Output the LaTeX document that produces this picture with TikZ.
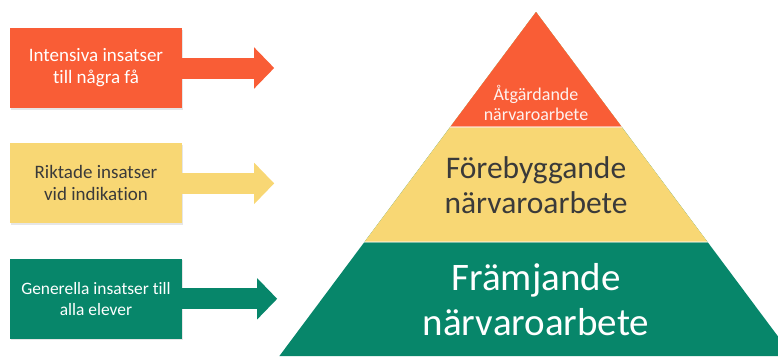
\documentclass[tikz,border=0pt]{standalone}
\usepackage{fontspec}
\setmainfont{Carlito}[Ligatures={NoCommon}]
\usetikzlibrary{arrows.meta,positioning,shadows}

\begin{document}
\begin{tikzpicture}[
            x=1pt, y=-1pt,
            node distance=35pt,
            pil/.style={line width=21pt, -{Triangle[length=20pt,width=40pt]}}
        ]
            \definecolor{rdx}{HTML}{F95D36}
            \definecolor{ylx}{HTML}{F8D774}
            \definecolor{gnx}{HTML}{07866A}
            \definecolor{txt}{HTML}{3A3A3A}

            \useasboundingbox (0,0) rectangle (778,356);

            \begin{scope}[
                every node/.style={minimum width=172pt,minimum height=80pt,align=center,
                    font=\fontsize{19}{22}\selectfont,
                    drop shadow={shadow xshift=1pt,shadow yshift=-1.5pt,opacity=.2}}
            ]
                \node (i1) [fill=rdx,text=white] at (96,68)    {Intensiva insatser\\till några få};
                \node (i2) [below=of i1,fill=ylx,text=txt]      {Riktade insatser\\vid indikation};
                \node (i3) [below=of i2,fill=gnx,text=white,
                            font=\fontsize{17.4}{21}\selectfont] {Generella insatser till\\alla elever};
            \end{scope}
            \coordinate [right=92pt of i1.east] (a1);
            \coordinate [right=92pt of i2.east] (a2);
            \coordinate [right=95pt of i3.east] (a3);
            \draw [pil,rdx] (i1.east) -- (a1);
            \draw [pil,ylx] (i2.east) -- (a2);
            \draw [pil,gnx] (i3.east) -- (a3);

            % pyramid
            \coordinate (top) at (536,12);
            \coordinate (l1)  at (450.2,127);
            \coordinate (r1)  at (621.8,127);
            \coordinate (l2)  at (364.4,242);
            \coordinate (r2)  at (707.6,242);
            \coordinate (l3)  at (279.4,356);
            \coordinate (r3)  at (792.6,356);
            \begin{scope}
                \clip (0,0) rectangle (778,356);
                \fill [gnx] (top) -- (l3) -- (r3) -- cycle;
                \fill [ylx] (top) -- (l2) -- (r2) -- cycle;
                \fill [rdx] (top) -- (l1) -- (r1) -- cycle;
                \draw [white,opacity=.5,line width=1.5pt] (l1) -- (r1);
                \draw [white,opacity=.4,line width=1.5pt] (l2) -- (r2);
            \end{scope}
            \node (p1) [align=center,text=white!92!rdx,font=\fontsize{18}{20}\selectfont]
                at (536,103) {Åtgärdande\\närvaroarbete};
            \node (p2) [align=center,text=txt,font=\fontsize{31.5}{35}\selectfont]
                at (536,185) {Förebyggande\\närvaroarbete};
            \node (p3) [align=center,text=white,font=\fontsize{39}{45}\selectfont]
                at (536,300) {Främjande\\närvaroarbete};
        \end{tikzpicture}
\end{document}
